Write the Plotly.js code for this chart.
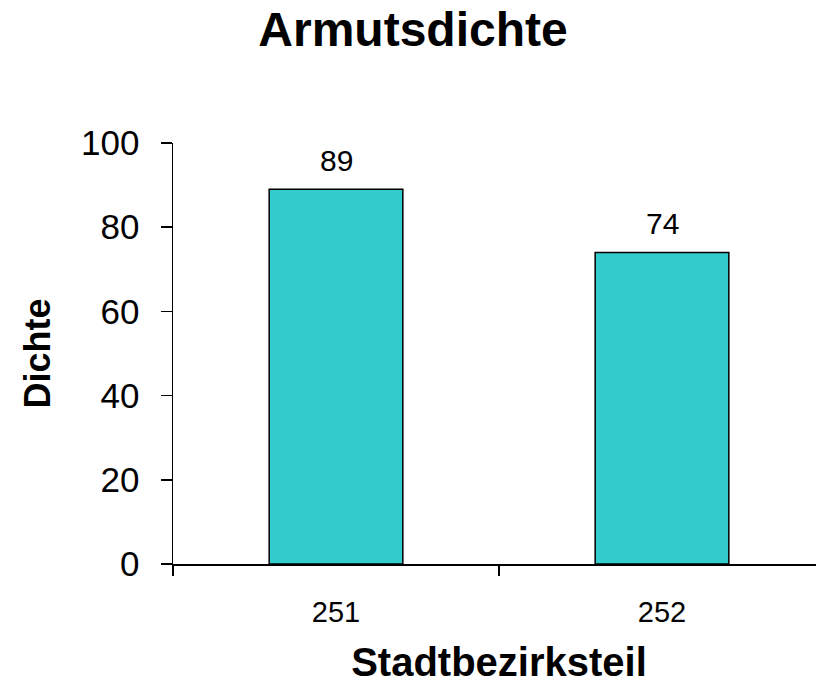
<!DOCTYPE html>
<html><head><meta charset="utf-8">
<script src="https://cdn.plot.ly/plotly-3.0.1.min.js"></script>
<style>html,body{margin:0;padding:0;overflow:hidden;background:#fff}</style>
</head><body><div id="chart"></div>
<script>
const categories = ["251", "252"];
const values = [89, 74];
const labels = ["89", "74"];
const yTicks = [0, 20, 40, 60, 80, 100];

const F = "Arial, 'Liberation Sans', sans-serif";
const trace = {
  type: "bar", x: categories, y: values,
  marker: {color: "#33CCCC", line: {color: "#000", width: 1.5}},
  hoverinfo: "none"
};
const annotations = categories.map((c, i) => ({
  x: i, y: values[i], xref: "x", yref: "y", text: labels[i], showarrow: false,
  yanchor: "bottom", yshift: 10, font: {family: F, size: 30, color: "#000"}
}));
const layout = {
  width: 825, height: 684, autosize: false,
  margin: {l: 173, r: 0, t: 143, b: 120},
  paper_bgcolor: "#fff", plot_bgcolor: "#fff",
  showlegend: false, bargap: 0.59,
  title: {text: "<b>Armutsdichte</b>", x: 0.5006, xref: "container", y: 0.958, yref: "container", yanchor: "middle", xanchor: "center",
          font: {family: F, size: 48, color: "#000"}},
  xaxis: {type: "category", range: [-0.5, 1.5], showline: true, linecolor: "#000", linewidth: 1.5,
          ticks: "outside", tickson: "boundaries", ticklen: 10, tickcolor: "#000", tickwidth: 1.5,
          showgrid: false, zeroline: false, ticklabelstandoff: 22,
          tickfont: {family: F, size: 29, color: "#000"},
          title: {text: "<b>Stadtbezirksteil</b>", standoff: 25, font: {family: F, size: 40, color: "#000"}}},
  yaxis: {range: [0, 100], tickvals: yTicks, ticktext: yTicks.map(String), showline: true, linecolor: "#000", linewidth: 1.5,
          ticks: "outside", ticklen: 11, tickcolor: "#000", tickwidth: 1.5, showgrid: false, zeroline: false,
          ticklabelstandoff: 14, tickfont: {family: F, size: 35, color: "#000"},
          title: {text: "<b>Dichte</b>", standoff: 19, font: {family: F, size: 36, color: "#000"}}},
  annotations: annotations
};
Plotly.newPlot("chart", [trace], layout, {staticPlot: true, displayModeBar: false});
</script></body></html>
